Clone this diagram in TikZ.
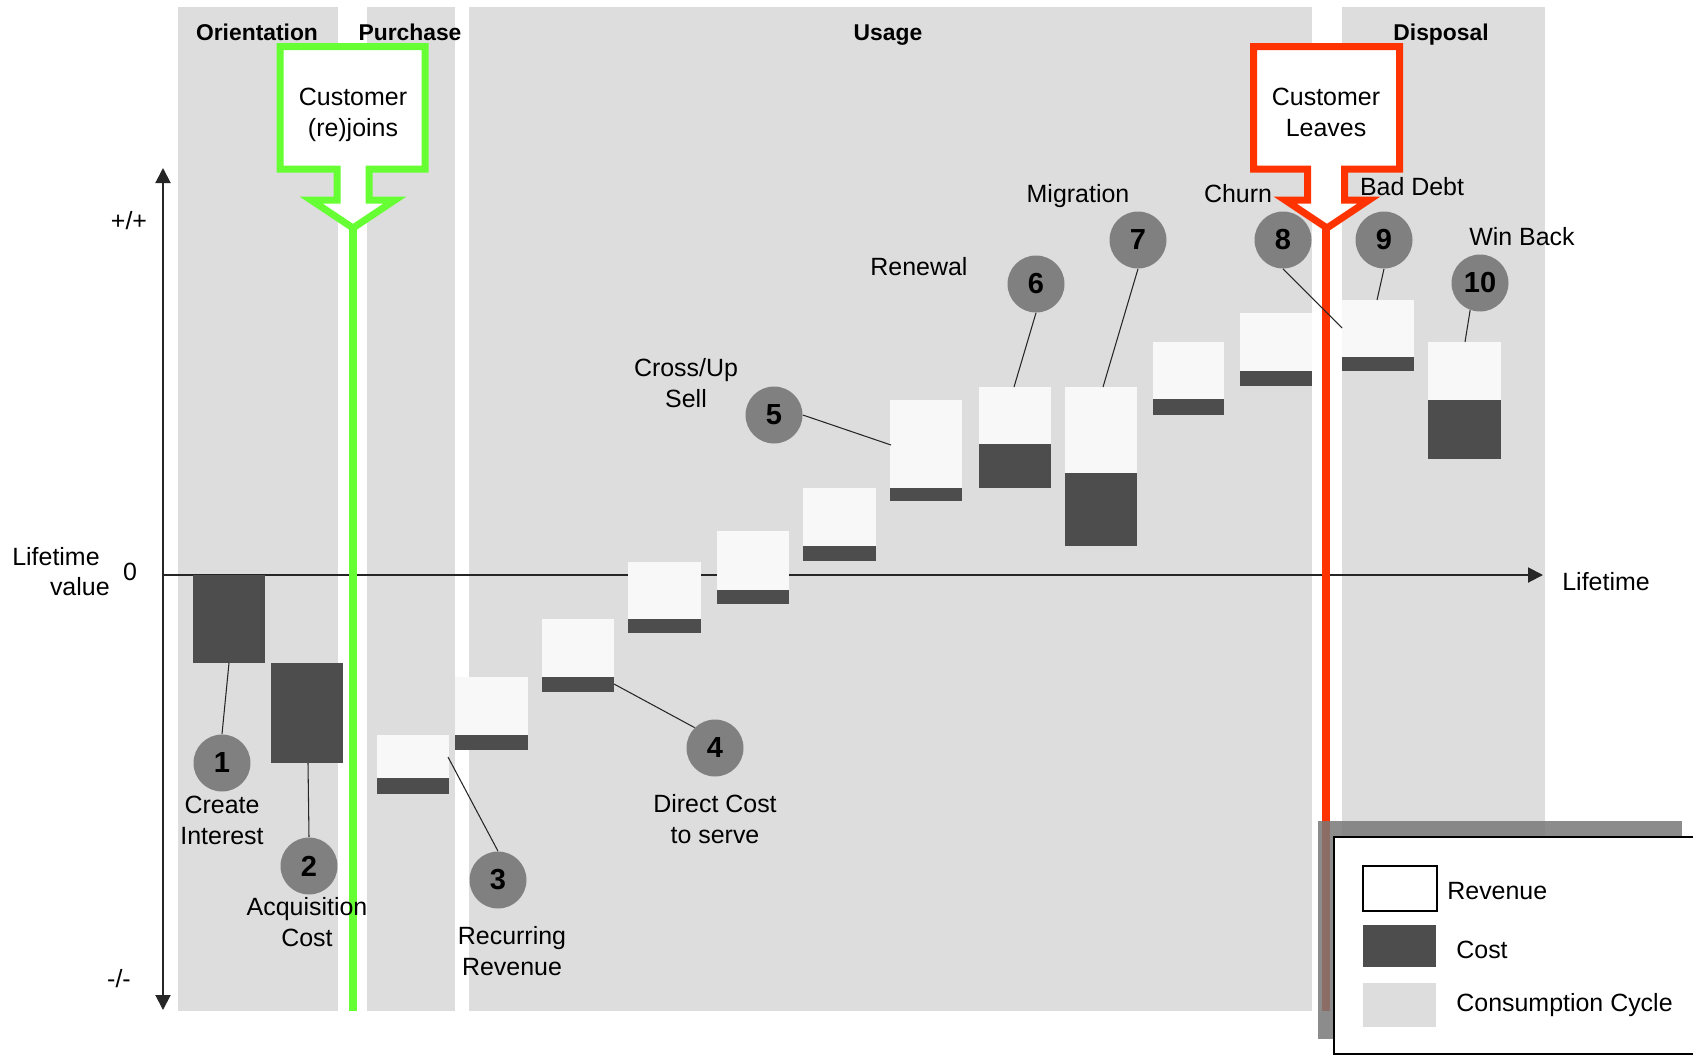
\documentclass[tikz,border=0pt]{standalone}
\usepackage{fontspec}
\setmainfont{Liberation Sans}
\usetikzlibrary{arrows.meta}

\definecolor{panel}{HTML}{DDDDDD}
\definecolor{revfill}{HTML}{F8F8F8}
\definecolor{costfill}{HTML}{4D4D4D}
\definecolor{badgefill}{HTML}{808080}
\definecolor{joingreen}{HTML}{66FF33}
\definecolor{leavered}{HTML}{FF3300}
\definecolor{shadowgray}{HTML}{787878}

% one period: revenue block on top of its cost block
\newcommand\lvbar[5]{%
  \fill[revfill] (#1,#3) rectangle (#2,#4);
  \fill[costfill] (#1,#4) rectangle (#2,#5);}

\begin{document}
\begin{tikzpicture}[x=0.02cm,y=-0.02cm,
  phasebox/.style={fill=panel},
  badge/.style={circle, fill=badgefill, minimum size=1.14cm, inner sep=0pt,
    font=\fontsize{16.5}{18}\selectfont\bfseries},
  lead/.style={draw=black!85, line width=0.6pt},
  lbl/.style={font=\fontsize{14.2}{17.4}\selectfont, inner sep=0pt, align=center, anchor=base},
  phasetitle/.style={font=\fontsize{13}{15}\selectfont\bfseries, inner sep=0pt, anchor=base},
  axisline/.style={line width=1.1pt, draw=black!85},
  axtip/.tip={Triangle[width=0.3cm,length=0.3cm]},
  callout/.style={line width=0.14cm, fill=white, miter limit=10},
  lifeline/.style={line width=0.16cm},
  swatch/.style={line width=0.7pt}]

\useasboundingbox[fill=white] (0,0) rectangle (1693,1055);

% phases of the consumption cycle
\fill[phasebox] (178,7) rectangle (338,1011);
\fill[phasebox] (367,7) rectangle (455,1011);
\fill[phasebox] (469,7) rectangle (1312,1011);
\fill[phasebox] (1342,7) rectangle (1545,1011);

% axes
\coordinate (ytop) at (163,168);
\coordinate (ybot) at (163,1010);
\coordinate (orig) at (163,575);
\coordinate (xend) at (1543,575);
\draw[axisline, axtip-axtip] (ybot) -- (ytop);
\draw[axisline, -axtip] (orig) -- (xend);

% revenue / cost per period
\lvbar{193}{265}{575}{575}{663}
\lvbar{271}{343}{663}{663}{763}
\lvbar{377}{449}{735}{778}{794}
\lvbar{455}{528}{677}{735}{750}
\lvbar{542}{614}{619}{677}{692}
\lvbar{628}{701}{562}{619}{633}
\lvbar{717}{789}{531}{590}{604}
\lvbar{803}{876}{488}{546}{561}
\lvbar{890}{962}{400}{488}{501}
\lvbar{979}{1051}{387}{444}{488}
\lvbar{1065}{1137}{387}{473}{546}
\lvbar{1153}{1224}{342}{399}{415}
\lvbar{1240}{1312}{313}{371}{386}
\lvbar{1342}{1414}{300}{357}{371}
\lvbar{1428}{1501}{342}{400}{459}

% join and leave lifelines
\coordinate (gtop) at (353,226);
\coordinate (gbot) at (353,1011);
\coordinate (rtop) at (1326,226);
\coordinate (rbot) at (1326,1011);
\draw[lifeline, joingreen] (gtop) -- (gbot);
\draw[lifeline, leavered] (rtop) -- (rbot);

% callouts
\draw[callout, draw=joingreen] (280,46.5) -- (425,46.5) -- (425,169) -- (369,169)
  -- (369,200) -- (395,200) -- (353,228) -- (311,200) -- (337,200) -- (337,169)
  -- (280,169) -- cycle;
\draw[callout, draw=leavered] (1253.5,46.5) -- (1399.5,46.5) -- (1399.5,169) -- (1344.5,169)
  -- (1344.5,200) -- (1369,200) -- (1327,228) -- (1285,200) -- (1307.5,200) -- (1307.5,169)
  -- (1253.5,169) -- cycle;
% two-line texts: the base anchor sits on the last line
\node[lbl] (join) at (353,136) {Customer\\(re)joins};
\node[lbl] (leave) at (1326,136) {Customer\\Leaves};

% phase titles
\node[phasetitle] (tori) at (257,40) {Orientation};
\node[phasetitle] (tpur) at (410,40) {Purchase};
\node[phasetitle] (tuse) at (888,40) {Usage};
\node[phasetitle] (tdis) at (1441,40) {Disposal};

% numbered events
\node[badge] (n1) at (222,763) {1};
\node[badge] (n2) at (309,866) {2};
\node[badge] (n3) at (498,880) {3};
\node[badge] (n4) at (715,748) {4};
\node[badge] (n5) at (774,415) {5};
\node[badge] (n6) at (1036,284) {6};
\node[badge] (n7) at (1138,240) {7};
\node[badge] (n8) at (1283,240) {8};
\node[badge] (n9) at (1384,240) {9};
\node[badge] (n10) at (1480,283) {10};

\coordinate (p1) at (229,663);
\coordinate (p2) at (308,763);
\coordinate (p3) at (448,757);
\coordinate (p4) at (614,684);
\coordinate (p5) at (891,445);
\coordinate (p6) at (1014,387);
\coordinate (p7) at (1103,387);
\coordinate (p8) at (1342,328);
\coordinate (p9) at (1377,300);
\coordinate (p10) at (1465,342);
\draw[lead] (p1) -- (n1.north);
\draw[lead] (p2) -- (n2.north);
\draw[lead] (p3) -- (n3.north);
\draw[lead] (p4) -- (n4.135);
\draw[lead] (p5) -- (n5.east);
\draw[lead] (p6) -- (n6.south);
\draw[lead] (p7) -- (n7.south);
\draw[lead] (p8) -- (n8.south);
\draw[lead] (p9) -- (n9.south);
\draw[lead] (p10) -- (n10.250);

% event labels
\node[lbl] (l1) at (222,844) {Create\\Interest};
\node[lbl] (l2) at (307,946) {Acquisition\\Cost};
\node[lbl] (l3) at (512,975) {Recurring\\Revenue};
\node[lbl] (l4) at (715,843) {Direct Cost\\to serve};
\node[lbl] (l5) at (686,407) {Cross/Up\\Sell};
\node[lbl] (l6) at (919,275) {Renewal};
\node[lbl] (l7) at (1078,202) {Migration};
\node[lbl] (l8) at (1238,202) {Churn};
\node[lbl] (l9) at (1412,195) {Bad Debt};
\node[lbl] (l10) at (1522,245) {Win Back};

% axis labels
\node[lbl] (plus) at (129,229) {+/+};
\node[lbl] (minus) at (119,987) {-/-};
\node[lbl, anchor=base east] (lv1) at (100,565) {Lifetime};
\node[lbl, anchor=base east] (lv2) at (110,595) {value};
\node[lbl] (zero) at (130,580) {0};
\node[lbl, anchor=base west] (lt) at (1562,590) {Lifetime};

% legend
\fill[shadowgray, opacity=.85] (1318,821) rectangle (1682,1039);
\filldraw[fill=white, draw=black, line width=0.9pt] (1700,837) -- (1334,837) -- (1334,1054) -- (1700,1054);
\draw[swatch, fill=white] (1363,866) rectangle (1437,911);
\fill[costfill] (1363,925) rectangle (1436,967);
\fill[panel] (1363,983) rectangle (1436,1027);
\node[lbl, anchor=base west] (lgrev) at (1447,899) {Revenue};
\node[lbl, anchor=base west] (lgcost) at (1456,958) {Cost};
\node[lbl, anchor=base west] (lgcyc) at (1456,1011) {Consumption Cycle};
\end{tikzpicture}
\end{document}
